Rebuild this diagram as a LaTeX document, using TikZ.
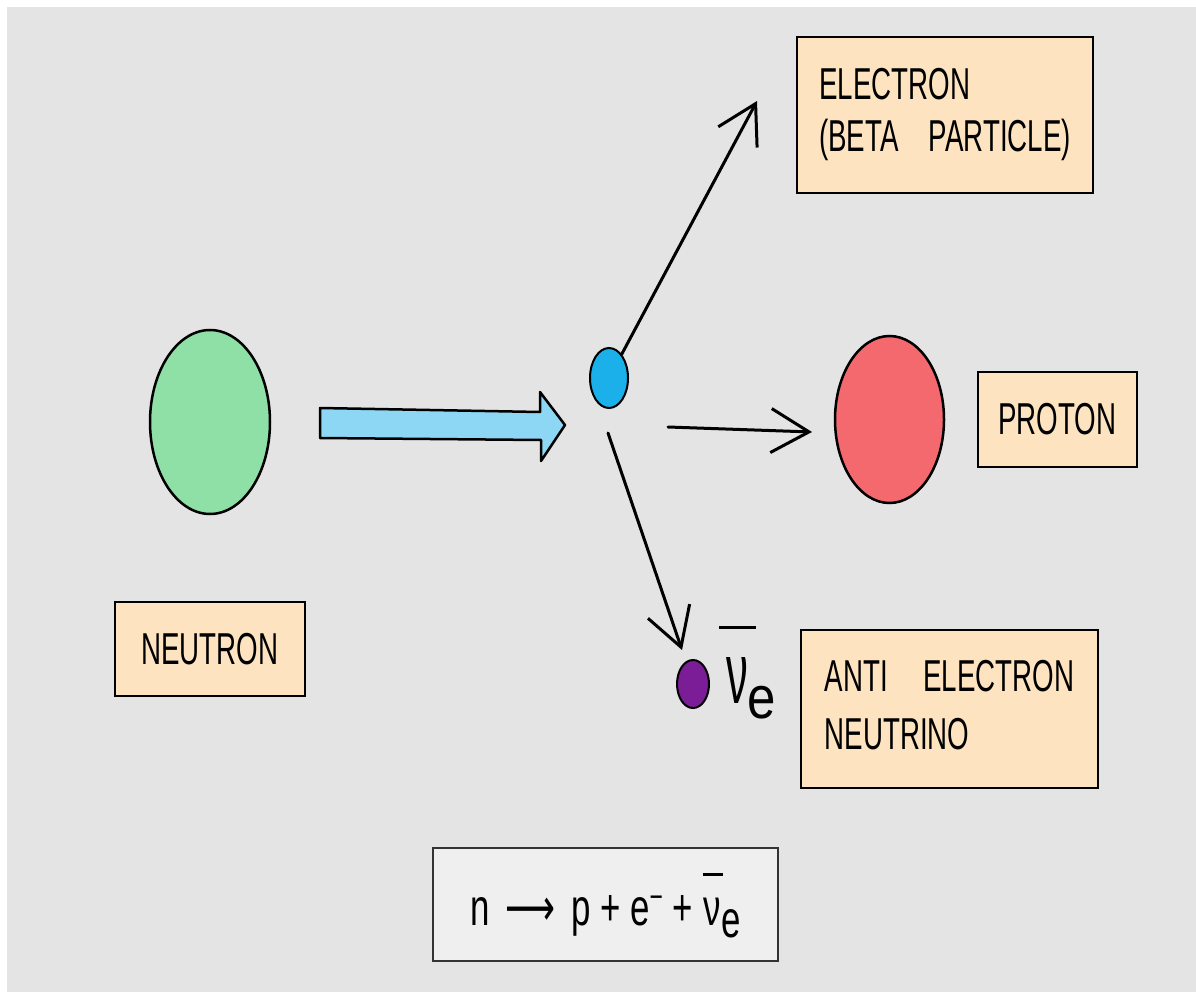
\documentclass[tikz,border=0pt]{standalone}
\usepackage{graphicx}
\usepackage{fontspec}
\setmainfont{Liberation Sans}
\newfontfamily\djv{DejaVu Sans}
\usetikzlibrary{arrows.meta,shapes.geometric}
\definecolor{bgray}{HTML}{E4E4E4}
\definecolor{peach}{HTML}{FDE3BF}
\definecolor{ngreen}{HTML}{8FE0A7}
\definecolor{pred}{HTML}{F4696E}
\definecolor{eblue}{HTML}{1BB0EA}
\definecolor{ablue}{HTML}{8DD7F4}
\definecolor{npurple}{HTML}{7B1D96}
\definecolor{eqfill}{HTML}{EFEFEF}
\newcommand\cond[1]{\scalebox{0.62}[1]{#1}}
\newcommand\nubar[4]{% rule width, rule thickness, gap, content
  \leavevmode\vbox{\offinterlineskip\hbox to #1{\hss\rule{#1}{#2}\hss}\kern#3\hbox to #1{\hss#4\hss}}}
\tikzset{
  lbl/.style={draw=black, line width=2.5pt, fill=peach, inner sep=0pt,
    font=\fontsize{44.7}{56}\selectfont},
  ball/.style={ellipse, draw=black, line width=2.5pt, inner sep=0pt},
  arr/.style={line width=3pt, line cap=round,
    -{Straight Barb[length=38pt,width=44pt,line width=3pt]}},
}
\begin{document}
\begin{tikzpicture}[x=1pt,y=-1pt]
\useasboundingbox (0,0) rectangle (1196,992);
\fill[white] (0,0) rectangle (1196,992);
\fill[bgray] (7,7) rectangle (1196,992);

% particles
\node[ball, fill=ngreen, minimum width=120pt, minimum height=184pt] (neutron) at (210,422) {};
\node[ball, fill=pred, minimum width=109pt, minimum height=167pt] (proton) at (889.5,419.5) {};
\node[ball, fill=eblue, line width=2pt, minimum width=38pt, minimum height=60pt] (electron) at (609,378) {};
\node[ball, fill=npurple, line width=2pt, minimum width=32pt, minimum height=48pt] (nu) at (693,684) {};

% label boxes
\node[lbl, minimum width=190pt, minimum height=94pt] (neutronlbl) at (210,649) {\cond{NEUTRON}};
\node[lbl, minimum width=159pt, minimum height=95pt] (protonlbl) at (1057.5,419.5) {\cond{PROTON}};
\node[lbl, minimum width=296pt, minimum height=156pt, font=\fontsize{44.7}{52}\selectfont] (electronlbl) at (945,115)
  {\cond{\begin{tabular}{@{}l@{}}ELECTRON\\(BETA\hspace{0.8em} PARTICLE)\end{tabular}}};
\node[lbl, minimum width=297pt, minimum height=158pt, font=\fontsize{44.7}{58}\selectfont] (nulbl) at (949.5,709)
  {\cond{\begin{tabular}{@{}l@{}}ANTI\hspace{1em} ELECTRON\\NEUTRINO\end{tabular}}};

% symbol next to the neutrino
\node[inner sep=0pt, anchor=base west] (nusym) at (719,703)
  {\nubar{37pt}{3pt}{28pt}{\fontsize{87}{87}\selectfont\scalebox{0.5}[1]{ν}}\kern-9pt\raisebox{-15pt}{\fontsize{60}{60}\selectfont\scalebox{0.85}[1]{e}}};

% equation box
\node[draw=black!80, line width=2pt, fill=eqfill, inner sep=0pt, minimum width=345pt, minimum height=113pt,
  text height=42pt, text depth=0pt, font=\fontsize{52}{52}\selectfont] (eq) at (605.5,904)
  {\scalebox{0.67}[1]{n\hspace{0.45em}{\djv ⟶}\hspace{0.45em}p + e\raisebox{17pt}{\fontsize{34}{34}\selectfont −} + \nubar{30pt}{3pt}{22pt}{ν}\kern-2pt\raisebox{-12pt}{e}}};

% big arrow
\filldraw[fill=ablue, draw=black, line width=2.5pt, line join=round]
  (320,408) -- (540,412) -- (540,392) -- (565,425) -- (541,461) -- (541,440) -- (320,438) -- cycle;

% connectors
\coordinate (etip) at (757,101);
\coordinate (hstart) at (668,427);
\coordinate (htip) at (812,432);
\coordinate (dstart) at (608,433);
\coordinate (dtip) at (682,650);
\draw[arr] (electron) -- (etip);
\draw[arr] (hstart) -- (htip);
\draw[arr] (dstart) -- (dtip);
\end{tikzpicture}
\end{document}
